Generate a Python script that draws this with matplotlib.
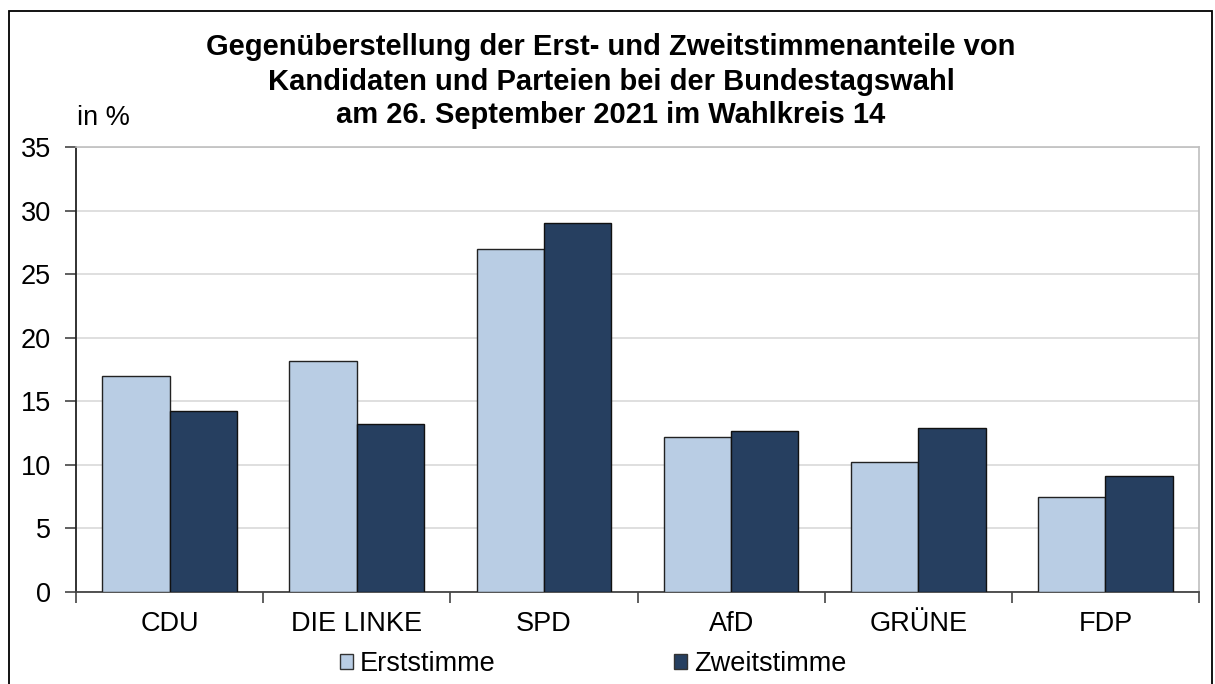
import matplotlib
matplotlib.use("Agg")
import matplotlib.pyplot as plt
import numpy as np
from matplotlib.patches import Rectangle

plt.rcParams['font.family'] = ['Liberation Sans', 'DejaVu Sans']

categories = ["CDU", "DIE LINKE", "SPD", "AfD", "GRÜNE", "FDP"]
erststimme = [17.0, 18.2, 27.0, 12.2, 10.2, 7.5]
zweitstimme = [14.2, 13.2, 29.0, 12.7, 12.9, 9.1]
series_names = ["Erststimme", "Zweitstimme"]
yticks = [0, 5, 10, 15, 20, 25, 30, 35]
title = ("Gegenüberstellung der Erst- und Zweitstimmenanteile von\n"
         "Kandidaten und Parteien bei der Bundestagswahl\n"
         "am 26. September 2021 im Wahlkreis 14")

W, H = 1215, 684
fs = 19.5
fig = plt.figure(figsize=(W / 100, H / 100), dpi=100)
ax = fig.add_axes([76 / W, 1 - 592 / H, (1199 - 76) / W, (592 - 147) / H])

x = np.arange(len(categories))
bw = 0.36
c1, c2 = "#b9cde4", "#263f60"
ax.bar(x - bw / 2, erststimme, bw, color=c1, edgecolor="#222222", linewidth=1.0,
       label=series_names[0], zorder=3)
ax.bar(x + bw / 2, zweitstimme, bw, color=c2, edgecolor="#111111", linewidth=1.0,
       label=series_names[1], zorder=3)

ax.set_xlim(-0.5, len(categories) - 0.5)
ax.set_ylim(0, 35)
ax.set_yticks(yticks)
ax.set_yticklabels([str(v) for v in yticks], fontsize=fs)
ax.yaxis.grid(True, color="#d9d9d9", linewidth=1.2, zorder=0)
ax.set_axisbelow(True)

ax.set_xticks(x)
ax.set_xticklabels(categories, fontsize=fs)
ax.set_xticks(np.arange(len(categories) + 1) - 0.5, minor=True)
ax.tick_params(axis='x', which='major', length=0, pad=14)
ax.tick_params(axis='x', which='minor', length=8, width=1.2, color="#444444", direction='out')
ax.tick_params(axis='y', length=8, width=1.2, color="#444444", pad=10, direction='out')

for s in ["top", "right"]:
    ax.spines[s].set_color("#bfbfbf")
    ax.spines[s].set_linewidth(1.2)
ax.spines["left"].set_color("#222222")
ax.spines["left"].set_linewidth(1.3)
ax.spines["bottom"].set_color("#444444")
ax.spines["bottom"].set_linewidth(1.3)

fig.text(611 / W, 1 - 55 / H, title.split("\n")[0], ha="center", va="baseline",
         fontsize=21, fontweight="bold")
fig.text(611 / W, 1 - 90 / H, title.split("\n")[1], ha="center", va="baseline",
         fontsize=21, fontweight="bold")
fig.text(611 / W, 1 - 123 / H, title.split("\n")[2], ha="center", va="baseline",
         fontsize=21, fontweight="bold")
fig.text(77 / W, 1 - 125 / H, "in %", ha="left", va="baseline", fontsize=fs)

leg = fig.legend(loc="center", bbox_to_anchor=(593 / W, 1 - 664 / H), ncol=2,
                 frameon=False, fontsize=fs, handlelength=0.48, handleheight=0.48,
                 handletextpad=0.26, columnspacing=6.6, borderpad=0)
for h in leg.legend_handles:
    h.set_edgecolor("#333333")
    h.set_linewidth(1.0)

fig.patches.append(Rectangle((9 / W, -0.1), (1212 - 9) / W, 1.1 - 11 / H,
                             transform=fig.transFigure, fill=False,
                             edgecolor="black", linewidth=1.3))

fig.savefig("out.png", dpi=100)
